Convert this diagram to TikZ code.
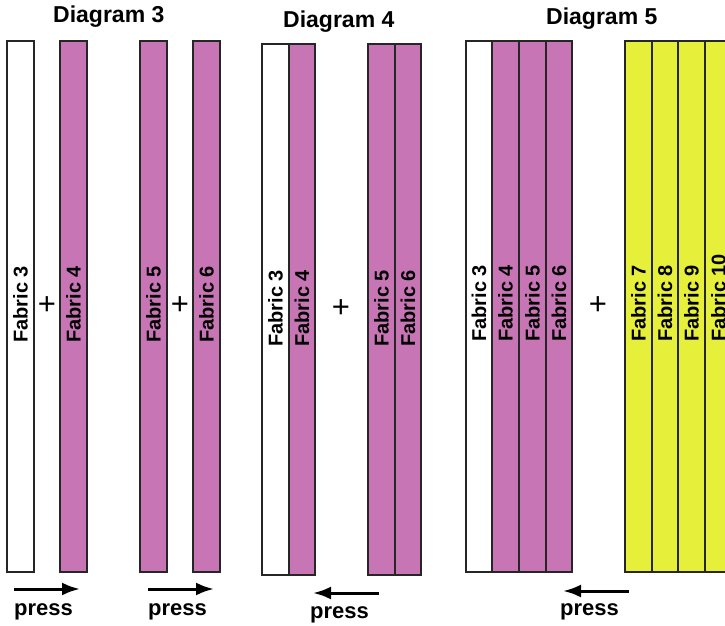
\documentclass[tikz,border=0pt]{standalone}
\usepackage{fontspec}
\setmainfont{Liberation Sans}
\usepackage{tikz}
\usetikzlibrary{arrows.meta}

\definecolor{orchid}{HTML}{C875B6}
\definecolor{lime}{HTML}{E6EF3A}

\tikzset{
  strip/.style={draw=black!85, line width=1.3pt},
  fablbl/.style={rotate=90, anchor=west, inner sep=0pt, font=\fontsize{20}{20}\selectfont\bfseries},
  ttl/.style={anchor=base west, inner sep=0pt, font=\fontsize{23}{23}\selectfont\bfseries},
  prs/.style={anchor=base west, inner sep=0pt, font=\fontsize{22}{22}\selectfont\bfseries},
  pls/.style={inner sep=0pt, font=\fontsize{31}{31}\selectfont},
  pressarrow/.style={->, line width=3pt}
}

\begin{document}
\begin{tikzpicture}[x=1pt, y=-1pt, >={Latex[length=18pt,width=13pt]}]
  \useasboundingbox (0,0) rectangle (725,626);
  \clip (0,0) rectangle (725,626);

  % Diagram 3
  \node[ttl] (t3) at (53,23) {Diagram 3};
  \draw [strip, fill=white] (7,41) rectangle (34,572);
  \draw [strip, fill=orchid] (60,41) rectangle (87,572);
  \draw [strip, fill=orchid] (140,41) rectangle (167,572);
  \draw [strip, fill=orchid] (193,41) rectangle (220,572);
  \node[fablbl] (d3a) at (20.5,343) {Fabric 3};
  \node[fablbl] (d3b) at (73.5,343) {Fabric 4};
  \node[fablbl] (d3c) at (153.5,343) {Fabric 5};
  \node[fablbl] (d3d) at (206.5,343) {Fabric 6};
  \node[pls] (p3a) at (47,306) {+};
  \node[pls] (p3b) at (180,306) {+};
  \coordinate (a3s) at (14,589);
  \coordinate (a3e) at (80,589);
  \draw [pressarrow] (a3s) -- (a3e);
  \node[prs] (w3a) at (14,615) {press};
  \coordinate (b3s) at (148,589);
  \coordinate (b3e) at (214,589);
  \draw [pressarrow] (b3s) -- (b3e);
  \node[prs] (w3b) at (148,615) {press};

  % Diagram 4
  \node[ttl] (t4) at (283,28) {Diagram 4};
  \draw [strip, fill=white] (262,44) rectangle (289,575);
  \draw [strip, fill=orchid] (289,44) rectangle (315,575);
  \draw [strip, fill=orchid] (368,44) rectangle (395,575);
  \draw [strip, fill=orchid] (395,44) rectangle (421,575);
  \node[fablbl] (d4a) at (275.5,347) {Fabric 3};
  \node[fablbl] (d4b) at (302,347) {Fabric 4};
  \node[fablbl] (d4c) at (381.5,347) {Fabric 5};
  \node[fablbl] (d4d) at (408,347) {Fabric 6};
  \node[pls] (p4) at (341,309) {+};
  \coordinate (a4s) at (379,593);
  \coordinate (a4e) at (313,593);
  \draw [pressarrow] (a4s) -- (a4e);
  \node[prs] (w4) at (310,618) {press};

  % Diagram 5
  \node[ttl] (t5) at (546,25) {Diagram 5};
  \draw [strip, fill=white] (466,41) rectangle (492,572);
  \draw [strip, fill=orchid] (492,41) rectangle (519,572);
  \draw [strip, fill=orchid] (519,41) rectangle (546,572);
  \draw [strip, fill=orchid] (546,41) rectangle (572,572);
  \draw [strip, fill=lime] (625,41) rectangle (652,572);
  \draw [strip, fill=lime] (652,41) rectangle (678,572);
  \draw [strip, fill=lime] (678,41) rectangle (705,572);
  \draw [strip, fill=lime] (705,41) rectangle (732,572);
  \node[fablbl] (d5a) at (479,342) {Fabric 3};
  \node[fablbl] (d5b) at (505.5,342) {Fabric 4};
  \node[fablbl] (d5c) at (532.5,342) {Fabric 5};
  \node[fablbl] (d5d) at (559,342) {Fabric 6};
  \node[fablbl] (d5e) at (638.5,342) {Fabric 7};
  \node[fablbl] (d5f) at (665,342) {Fabric 8};
  \node[fablbl] (d5g) at (691.5,342) {Fabric 9};
  \node[fablbl] (d5h) at (718.5,342) {Fabric 10};
  \node[pls] (p5) at (598,306) {+};
  \coordinate (a5s) at (629,591);
  \coordinate (a5e) at (563,591);
  \draw [pressarrow] (a5s) -- (a5e);
  \node[prs] (w5) at (560,615) {press};
\end{tikzpicture}
\end{document}
